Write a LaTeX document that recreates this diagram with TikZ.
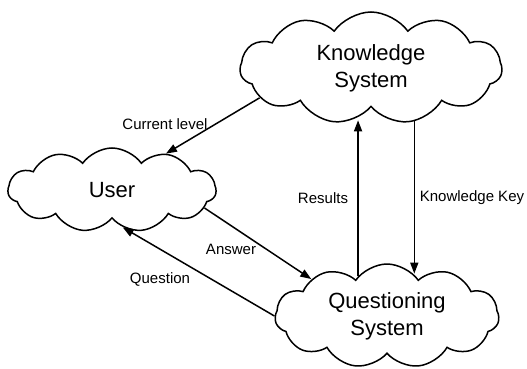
\documentclass[tikz,border=0pt]{standalone}
\usepackage{fontspec}
\setmainfont{Liberation Sans}
\usetikzlibrary{shapes.symbols,arrows.meta}
\begin{document}
\begin{tikzpicture}[x=1pt,y=1pt,
  cloudbox/.style={cloud, draw, line width=1.5pt, cloud puffs=11, cloud puff arc=110,
    cloud ignores aspect, inner sep=0pt, align=center, font=\fontsize{22}{27}\selectfont},
  conn/.style={line width=1.5pt, -{Triangle[length=11pt,width=8pt]}},
  lbl/.style={font=\fontsize{15}{17}\selectfont, inner sep=1pt}]
\useasboundingbox (0,0) rectangle (527,368);
\node[cloudbox, minimum width=262pt, minimum height=112pt] (k) at (371,300) {Knowledge\\System};
\node[cloudbox, minimum width=208pt, minimum height=84pt] (u) at (112,178) {User};
\node[cloudbox, minimum width=224pt, minimum height=104pt] (q) at (387,52) {Questioning\\System};
\draw[conn] (k.195) -- (u.34);
\draw[conn] (q.126) -- (q.126 |- k.250);
\draw[conn] (k.309) -- (k.309 |- q.58);
\draw[conn] (u.349) -- (q.154);
\draw[conn] (q.180) -- (u.286);
\node[lbl] (lcl) at (165,244) {Current level};
\node[lbl] (lres) at (323,170) {Results};
\node[lbl] (lkk) at (472,170) {Knowledge Key};
\node[lbl] (lans) at (231,119) {Answer};
\node[lbl] (lq) at (160,89) {Question};
\end{tikzpicture}
\end{document}
